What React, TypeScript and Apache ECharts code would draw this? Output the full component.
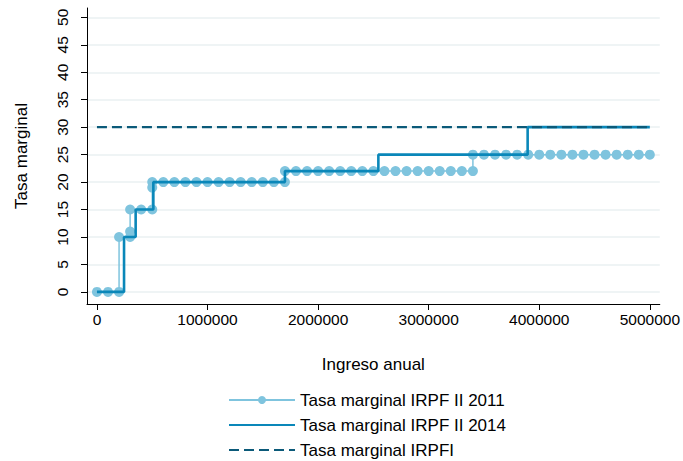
import React, { useEffect, useRef } from "react";
import * as echarts from "echarts";

const incomes2011 = [
  0, 100000, 200000, 200000, 300000, 300000, 300000, 400000, 500000, 500000, 500000,
  600000, 700000, 800000, 900000, 1000000, 1100000, 1200000, 1300000, 1400000, 1500000,
  1600000, 1700000, 1700000, 1800000, 1900000, 2000000, 2100000, 2200000, 2300000,
  2400000, 2500000, 2600000, 2700000, 2800000, 2900000, 3000000, 3100000, 3200000,
  3300000, 3400000, 3400000, 3500000, 3600000, 3700000, 3800000, 3900000, 4000000,
  4100000, 4200000, 4300000, 4400000, 4500000, 4600000, 4700000, 4800000, 4900000, 5000000,
];
const rates2011 = [
  0, 0, 0, 10, 10, 11, 15, 15, 15, 19, 20,
  20, 20, 20, 20, 20, 20, 20, 20, 20, 20,
  20, 20, 22, 22, 22, 22, 22, 22, 22,
  22, 22, 22, 22, 22, 22, 22, 22, 22,
  22, 22, 25, 25, 25, 25, 25, 25, 25,
  25, 25, 25, 25, 25, 25, 25, 25, 25, 25,
];

const incomes2014 = [0, 245000, 245000, 350000, 350000, 510000, 510000, 1700000, 1700000, 2545000, 2545000, 3895000, 3895000, 5000000];
const rates2014 = [0, 0, 10, 10, 15, 15, 20, 20, 22, 22, 25, 25, 30, 30];

const incomesIRPFI = [0, 5000000];
const ratesIRPFI = [30, 30];

const xTicks = [0, 1000000, 2000000, 3000000, 4000000, 5000000];
const yTicks = [0, 5, 10, 15, 20, 25, 30, 35, 40, 45, 50];

const seriesNames = ["Tasa marginal IRPF II 2011", "Tasa marginal IRPF II 2014", "Tasa marginal IRPFI"];

const zip = (xs: number[], ys: number[]) => xs.map((x, i) => [x, ys[i]]);

export default function App() {
  const ref = useRef<HTMLDivElement>(null);
  useEffect(() => {
    if (!ref.current) return;
    const chart = echarts.init(ref.current, null, { renderer: "svg" });
    const font = "'Liberation Sans', Arial, sans-serif";
    chart.setOption({
      animation: false,
      textStyle: { fontFamily: font },
      grid: { left: 87, right: 20, top: 8, bottom: 157, containLabel: false },
      xAxis: {
        type: "value",
        min: -90000,
        max: 5090000,
        name: "Ingreso anual",
        nameLocation: "middle",
        nameGap: 52,
        nameTextStyle: { color: "#000", fontSize: 17, fontFamily: font },
        axisLine: { show: true, onZero: false, lineStyle: { color: "#000", width: 1 } },
        axisTick: { show: true, length: 6, customValues: xTicks, lineStyle: { color: "#000" } },
        axisLabel: {
          customValues: xTicks,
          color: "#000",
          fontSize: 15.5,
          margin: 7,
          fontFamily: font,
          formatter: (v: number) => String(v),
        },
        splitLine: { show: false },
      },
      yAxis: {
        type: "value",
        min: -2.2,
        max: 51.7,
        name: "Tasa marginal",
        nameLocation: "middle",
        nameGap: 57,
        nameRotate: 90,
        nameTextStyle: { color: "#000", fontSize: 17, fontFamily: font },
        axisLine: { show: true, onZero: false, lineStyle: { color: "#000", width: 1 } },
        axisTick: { show: true, length: 6, customValues: yTicks, lineStyle: { color: "#000" } },
        axisLabel: { customValues: yTicks, rotate: 90, color: "#000", fontSize: 15.5, margin: 17, fontFamily: font },
        splitLine: { show: true, lineStyle: { color: "#eaf0f2", width: 1.5 } },
      },
      legend: {
        orient: "vertical",
        left: 228,
        top: 390,
        height: 71,
        padding: 0,
        itemWidth: 66,
        itemHeight: 10,
        itemGap: 5,
        textStyle: { color: "#000", fontSize: 17, lineHeight: 20, fontFamily: font },
        data: [
          { name: seriesNames[0] },
          { name: seriesNames[1], itemStyle: { opacity: 0 } },
          { name: seriesNames[2], itemStyle: { opacity: 0 } },
        ],
      },
      series: [
        {
          name: seriesNames[0],
          type: "line",
          data: zip(incomes2011, rates2011),
          symbol: "circle",
          symbolSize: 10,
          showAllSymbol: true,
          itemStyle: { color: "#7fc4de" },
          lineStyle: { color: "#7fc4de", width: 1.5 },
          z: 2,
        },
        {
          name: seriesNames[1],
          type: "line",
          data: zip(incomes2014, rates2014),
          symbol: "none",
          itemStyle: { color: "#0a87b9" },
          lineStyle: { color: "#0a87b9", width: 2.6 },
          z: 3,
        },
        {
          name: seriesNames[2],
          type: "line",
          data: zip(incomesIRPFI, ratesIRPFI),
          symbol: "none",
          itemStyle: { color: "#0b5a79" },
          lineStyle: { color: "#0b5a79", width: 2.2, type: [10, 5] },
          z: 4,
        },
      ],
    });
    return () => chart.dispose();
  }, []);
  return <div ref={ref} style={{ width: 683, height: 461, position: "absolute", left: 0, top: 0 }} />;
}
